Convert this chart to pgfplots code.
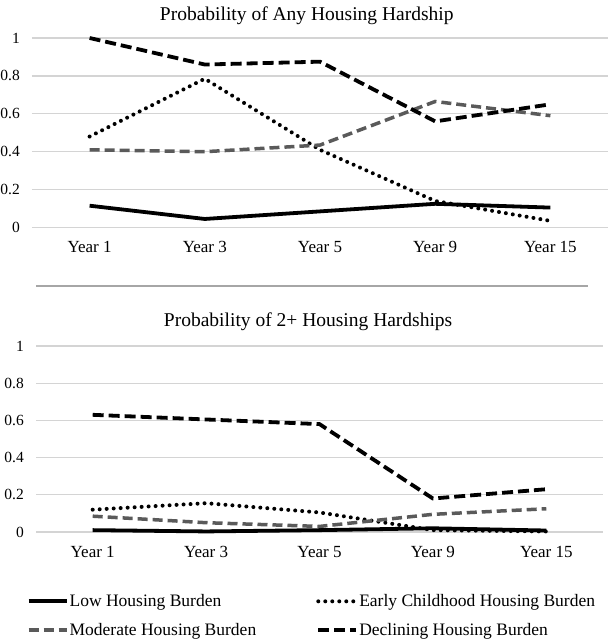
\documentclass[border=0pt]{standalone}
\usepackage{pgfplots}
\pgfplotsset{compat=1.18}
\usepackage{fontspec}
\setmainfont{Liberation Serif}
\definecolor{gridc}{RGB}{212,212,212}
\definecolor{modc}{RGB}{90,90,90}
\begin{document}
\begin{tikzpicture}
\useasboundingbox (0,0) rectangle (610pt,640pt);
\pgfplotsset{
  every axis/.append style={
    scale only axis,
    xmin=-0.5, xmax=4.5, ymin=0, ymax=1,
    xtick={0,1,2,3,4},
    xticklabels={Year 1,Year 3,Year 5,Year 9,Year 15},
    ytick={0,0.2,0.4,0.6,0.8,1},
    yticklabels={0,0.2,0.4,0.6,0.8,1},
    ymajorgrids,
    grid style={line width=1.3pt, gridc},
    axis line style={draw=none},
    major tick length=0pt,
    clip=false,
    /pgf/number format/assume math mode=true,
    xticklabel style={font=\fontsize{17}{20}\selectfont, anchor=base, yshift=-25pt, inner sep=0pt},
    yticklabel style={font=\fontsize{15.5}{18}\selectfont, anchor=east, inner sep=0pt, xshift=-12pt},
  },
  lowst/.style={black, line width=3.8pt},
  earlyst/.style={black, line width=4pt, line cap=round, dash pattern=on 0pt off 7pt},
  modst/.style={modc, line width=3.5pt, dash pattern=on 10pt off 5pt},
  decst/.style={black, line width=3.8pt, dash pattern=on 11pt off 5pt},
}
% Top panel
\begin{axis}[
  at={(32pt,412.5pt)}, anchor=south west,
  width=576pt, height=189.5pt,
  title={Probability of Any Housing Hardship},
  title style={font=\fontsize{19.5}{22}\selectfont, at={(axis description cs:0.477,1.063)}, anchor=base, inner sep=0pt},
]
\addplot[lowst] coordinates {(0,0.115) (1,0.045) (2,0.085) (3,0.125) (4,0.105)};
\addplot[earlyst] coordinates {(0,0.48) (1,0.785) (2,0.41) (3,0.14) (4,0.035)};
\addplot[modst] coordinates {(0,0.41) (1,0.40) (2,0.435) (3,0.665) (4,0.59)};
\addplot[decst] coordinates {(0,1.0) (1,0.86) (2,0.875) (3,0.56) (4,0.65)};
\end{axis}
\draw[line width=1.5pt, black!35] (36pt,354pt) -- (588pt,354pt);
% Bottom panel
\begin{axis}[
  at={(36pt,108pt)}, anchor=south west,
  width=567pt, height=186pt,
  title={Probability of 2+ Housing Hardships},
  title style={font=\fontsize{19.5}{22}\selectfont, at={(axis description cs:0.48,1.07)}, anchor=base, inner sep=0pt},
  legend columns=2,
  legend cell align=left,
  legend image code/.code={\draw[#1] (0pt,0pt) -- (38pt,0pt);},
  legend style={draw=none, fill=none, inner sep=0pt, row sep=15pt,
    font=\fontsize{17.5}{20}\selectfont,
    at={(axis description cs:-0.0165,-0.335)}, anchor=north west,
    nodes={inner sep=0pt},
    /tikz/every odd column/.style={column sep=1pt},
    /tikz/column 2/.style={column sep=60pt}},
]
\addplot[lowst] coordinates {(0,0.01) (1,0.003) (2,0.01) (3,0.02) (4,0.008)};
\addlegendentry{Low Housing Burden}
\addplot[earlyst] coordinates {(0,0.12) (1,0.155) (2,0.105) (3,0.01) (4,0.003)};
\addlegendentry{Early Childhood Housing Burden}
\addplot[modst] coordinates {(0,0.085) (1,0.05) (2,0.03) (3,0.095) (4,0.125)};
\addlegendentry{Moderate Housing Burden}
\addplot[decst] coordinates {(0,0.63) (1,0.605) (2,0.58) (3,0.18) (4,0.23)};
\addlegendentry{Declining Housing Burden}
\end{axis}
\end{tikzpicture}
\end{document}
